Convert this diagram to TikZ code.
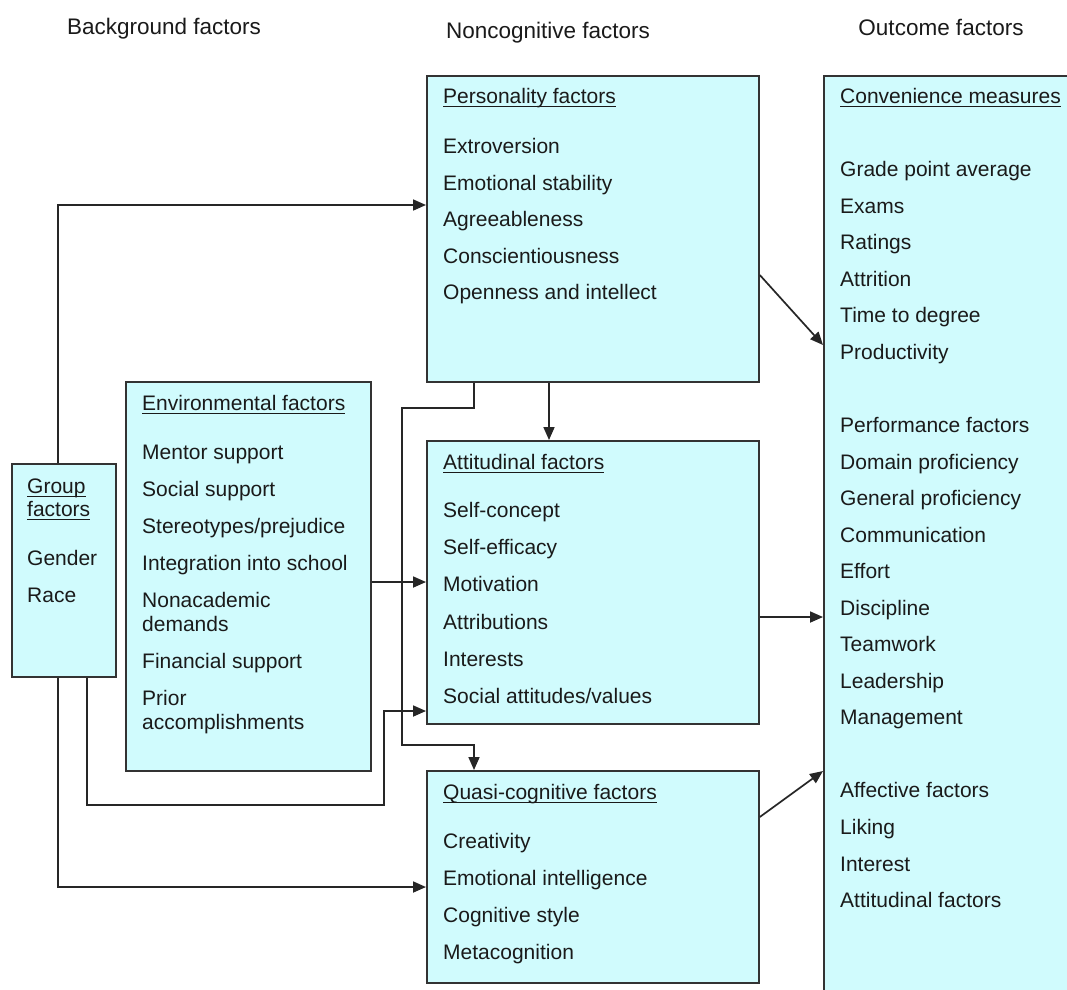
\documentclass[tikz,border=0pt]{standalone}
\usepackage{fontspec}
\setmainfont{Liberation Sans}
\usetikzlibrary{arrows.meta,calc}
\definecolor{boxfill}{HTML}{D0FBFD}
\definecolor{boxline}{HTML}{333333}
\definecolor{textcol}{HTML}{1A1A1A}
\newcommand\ulx[1]{\setbox0\hbox{#1}\rlap{\vrule height -2pt depth 3.6pt width \wd0}\box0}
\begin{document}
\begin{tikzpicture}[x=1pt,y=-1pt,
  fbox/.style={draw=boxline, fill=boxfill, line width=1.8pt, rectangle, inner sep=0pt, anchor=north west},
  item/.style={anchor=base west, inner sep=0pt, text=textcol, font=\fontsize{21pt}{25pt}\selectfont},
  ttl/.style={anchor=base, inner sep=0pt, text=textcol, font=\fontsize{22.5pt}{26pt}\selectfont},
  arr/.style={draw=black!85, line width=1.7pt, -{Triangle[length=13pt,width=11pt]}}]
\fill[white] (0,0) rectangle (1067,989);
\useasboundingbox (0,0) rectangle (1067,989);

% titles
\node[ttl] (t1) at (164,34) {Background factors};
\node[ttl] (t2) at (548,38) {Noncognitive factors};
\node[ttl] (t3) at (941,35) {Outcome factors};

% boxes
\node[fbox, minimum width=332pt, minimum height=306pt] (pers) at (426,75) {};
\node[fbox, minimum width=332pt, minimum height=283pt] (att) at (426,440) {};
\node[fbox, minimum width=332pt, minimum height=212pt] (quasi) at (426,770) {};
\node[fbox, minimum width=245pt, minimum height=389pt] (env) at (125,381) {};
\node[fbox, minimum width=104pt, minimum height=213pt] (grp) at (11,463) {};
\node[fbox, minimum width=300pt, minimum height=1000pt] (out) at (823,75) {};

% personality text
\node[item] (p0) at (443,103.5) {\ulx{Personality factors}};
\foreach \t/\y [count=\i] in {Extroversion/153.5, Emotional stability/190.1, Agreeableness/226.7, Conscientiousness/263.3, Openness and intellect/299.9}
  \node[item] (p\i) at (443,\y) {\t};

% attitudinal text
\node[item] (a0) at (443,469.5) {\ulx{Attitudinal factors}};
\foreach \t/\y [count=\i] in {Self-concept/517.5, Self-efficacy/554.5, Motivation/591.5, Attributions/629, Interests/666, Social attitudes\slash values/703}
  \node[item] (a\i) at (443,\y) {\t};

% quasi-cognitive text
\node[item] (q0) at (443,799.5) {\ulx{Quasi-cognitive factors}};
\foreach \t/\y [count=\i] in {Creativity/848.5, Emotional intelligence/885.5, Cognitive style/922.5, Metacognition/959.5}
  \node[item] (q\i) at (443,\y) {\t};

% environmental text
\node[item] (e0) at (142,410.5) {\ulx{Environmental factors}};
\foreach \t/\y [count=\i] in {Mentor support/459.5, Social support/496.5, Stereotypes\slash prejudice/533.5, Integration into school/570.5, Nonacademic/607.5, demands/631.5, Financial support/668.5, Prior/705.5, accomplishments/729.5}
  \node[item] (e\i) at (142,\y) {\t};

% group text
\node[item] (g0) at (27,493.5) {\ulx{Group}};
\node[item] (g1) at (27,516.5) {\ulx{factors}};
\node[item] (g2) at (27,565.5) {Gender};
\node[item] (g3) at (27,602.5) {Race};

% outcome text
\node[item] (o0) at (840,103.5) {\ulx{Convenience measures}};
\foreach \t/\k [count=\i] in {Grade point average/2, Exams/3, Ratings/4, Attrition/5, Time to degree/6, Productivity/7,
  Performance factors/9, Domain proficiency/10, General proficiency/11, Communication/12, Effort/13, Discipline/14, Teamwork/15, Leadership/16, Management/17,
  Affective factors/19, Liking/20, Interest/21, Attitudinal factors/22}
  \node[item] (o\i) at (840,103.5+36.55*\k) {\t};

% connector coordinates
\coordinate (c1) at (58,205);
\coordinate (c2) at (58,887);
\coordinate (c3) at (87,805);
\coordinate (c3b) at (384,711);
\coordinate (c4) at (0,582);
\coordinate (c5) at (474,408);
\coordinate (c5b) at (402,745);
\coordinate (c6) at (549,0);
\coordinate (c7s) at (0,275);
\coordinate (c7e) at (0,345);
\coordinate (c8) at (0,617);
\coordinate (c9s) at (0,817);
\coordinate (c9e) at (0,771);

% connectors
\draw[arr] (grp.north -| c1) |- (pers.west |- c1);
\draw[arr] (grp.south -| c2) |- (quasi.west |- c2);
\draw[arr] (grp.south -| c3) |- (c3b |- c3) -- (c3b) -- (att.west |- c3b);
\draw[arr] (env.east |- c4) -- (att.west |- c4);
\draw[arr] (pers.south -| c5) -- (c5) -| (c5b) -| (quasi.north -| c5);
\draw[arr] (pers.south -| c6) -- (att.north -| c6);
\draw[arr] (pers.east |- c7s) -- (out.west |- c7e);
\draw[arr] (att.east |- c8) -- (out.west |- c8);
\draw[arr] (quasi.east |- c9s) -- (out.west |- c9e);
\end{tikzpicture}
\end{document}
